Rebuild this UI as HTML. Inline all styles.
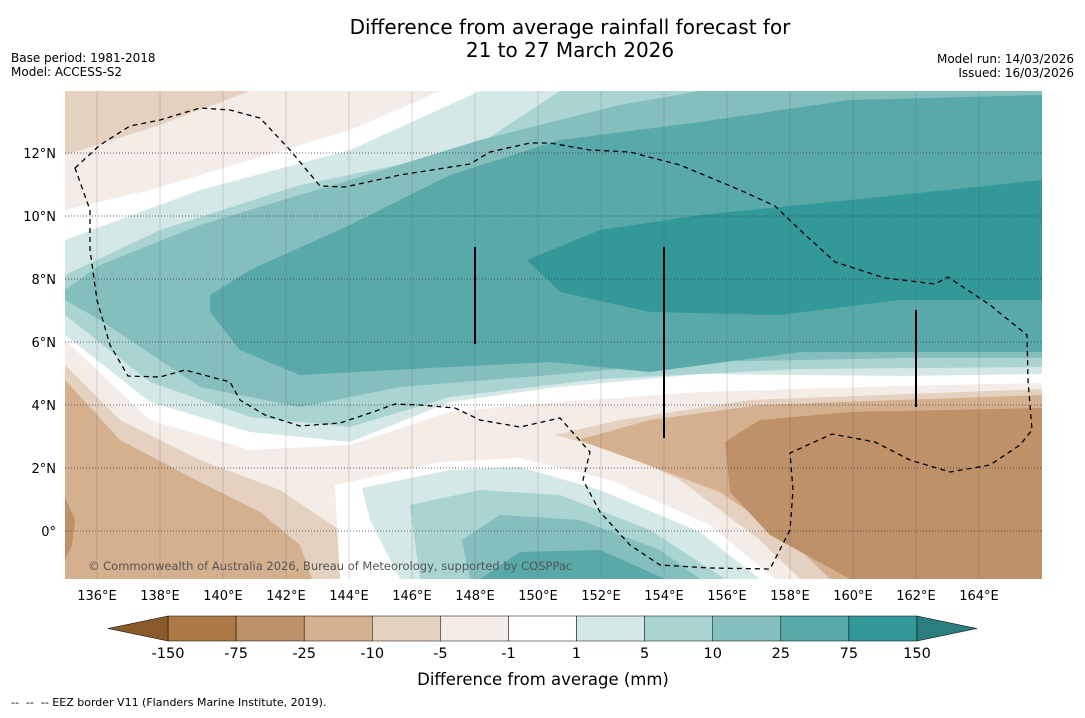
<!DOCTYPE html>
<html><head><meta charset="utf-8">
<style>
body{margin:0;background:#fff;font-family:"Liberation Sans","DejaVu Sans",sans-serif;}
svg text{font-family:"DejaVu Sans","Liberation Sans",sans-serif;}
</style></head>
<body>
<svg width="1085" height="713" viewBox="0 0 1085 713">
<rect width="1085" height="713" fill="#fff"/>
<text x="570" y="34" font-size="20" text-anchor="middle">Difference from average rainfall forecast for</text>
<text x="570" y="57" font-size="20" text-anchor="middle">21 to 27 March 2026</text>
<text x="11" y="62" font-size="12">Base period: 1981-2018</text>
<text x="11" y="76" font-size="12">Model: ACCESS-S2</text>
<text x="1074" y="63" font-size="12" text-anchor="end">Model run: 14/03/2026</text>
<text x="1074" y="77" font-size="12" text-anchor="end">Issued: 16/03/2026</text>
<defs><clipPath id="mc"><rect x="65" y="91" width="977" height="488"/></clipPath></defs>
<g clip-path="url(#mc)">
<rect x="65" y="91" width="977" height="488" fill="#fff"/>
<path d="M65,91 L440,91 L350,130 L250,160 L150,190 L65,210 Z" fill="#f4ece6"/>
<path d="M65,91 L250,91 L160,125 L65,155 Z" fill="#e5d1bf"/>
<path d="M65,340 L150,420 L250,450 L350,445 L450,412 L560,402 L700,392 L900,386 L1042,383 L1042,579 L65,579 Z" fill="#f4ece6"/>
<path d="M65,365 L120,420 L200,460 L280,490 L340,530 L370,579 L65,579 Z" fill="#e5d1bf"/>
<path d="M65,380 L120,440 L200,482 L260,512 L300,545 L312,579 L65,579 Z" fill="#d4b08f"/>
<path d="M65,497 L75,520 L72,545 L65,560 Z" fill="#bf9169"/>
<path d="M555,435 L620,420 L750,400 L1042,389 L1042,579 L800,579 L760,540 L680,480 L620,452 Z" fill="#e5d1bf"/>
<path d="M578,440 L650,420 L760,405 L1042,395 L1042,579 L830,579 L790,540 L720,492 L640,462 Z" fill="#d4b08f"/>
<path d="M725,442 L760,420 L850,412 L1042,408 L1042,579 L850,579 L770,535 L730,492 Z" fill="#bf9169"/>
<path d="M335,485 L440,462 L520,458 L610,480 L710,525 L775,579 L340,579 Z" fill="#fff"/>
<path d="M362,488 L450,470 L520,467 L600,490 L700,532 L760,579 L400,579 L370,520 Z" fill="#d4e9e7"/>
<path d="M410,505 L480,490 L560,495 L650,530 L725,579 L420,579 Z" fill="#a9d4d2"/>
<path d="M462,540 L500,515 L580,520 L660,550 L700,579 L470,579 Z" fill="#84bebd"/>
<path d="M480,579 L520,552 L600,550 L665,579 Z" fill="#59a9a9"/>
<path d="M65,240 L200,190 L350,150 L480,91 L1042,91 L1042,374 L900,376 L700,374 L550,388 L450,402 L350,442 L250,432 L150,402 L65,335 Z" fill="#d4e9e7"/>
<path d="M65,275 L160,230 L300,185 L470,150 L560,91 L1042,91 L1042,367 L800,369 L600,379 L450,397 L350,427 L250,417 L150,382 L65,315 Z" fill="#a9d4d2"/>
<path d="M65,290 L100,265 L200,225 L350,180 L480,140 L620,105 L700,91 L1042,91 L1042,358 L900,358 L700,362 L550,375 L400,387 L300,407 L200,387 L100,320 L65,300 Z" fill="#84bebd"/>
<path d="M210,295 L250,270 L350,225 L450,175 L560,140 L700,122 L850,100 L1042,95 L1042,352 L800,352 L650,372 L550,362 L450,367 L300,375 L240,350 L210,312 Z" fill="#59a9a9"/>
<path d="M527,260 L600,230 L700,215 L850,200 L1042,180 L1042,300 L900,300 L780,315 L650,312 L560,292 Z" fill="#329898"/>
<g id="grid"></g>
<path d="M75,168 L100,145 L130,126 L160,120 L200,108 L230,110 L260,118 L290,150 L320,186 L345,187 L400,175 L470,164 L490,152 L530,143 L550,143 L590,150 L630,152 L680,165 L740,190 L775,206 L800,230 L835,262 L885,278 L935,284 L948,277 L990,305 L1027,335 L1028,380 L1032,430 L1020,445 L990,465 L950,472 L910,460 L875,442 L832,434 L790,453 L793,490 L790,530 L770,569 L710,568 L660,565 L630,545 L600,512 L583,480 L590,452 L560,418 L520,427 L480,420 L455,408 L420,405 L395,404 L370,413 L340,423 L300,426 L265,415 L240,400 L230,382 L185,370 L160,377 L128,376 L110,345 L97,300 L90,250 L90,210 Z" fill="none" stroke="#000" stroke-width="1.3" stroke-dasharray="5,4"/>
<line x1="475" y1="247" x2="475" y2="344" stroke="#000" stroke-width="2"/>
<line x1="664" y1="247" x2="664" y2="438" stroke="#000" stroke-width="2"/>
<line x1="916" y1="310" x2="916" y2="407" stroke="#000" stroke-width="2"/>
<text x="88" y="570" font-size="11.5" fill="#555">© Commonwealth of Australia 2026, Bureau of Meteorology, supported by COSPPac</text>
</g>
<g id="axes"></g>
<g id="cbar"></g>
<text x="543" y="685" font-size="16.5" text-anchor="middle">Difference from average (mm)</text>
<text x="11" y="706" font-size="11" xml:space="preserve">--  --  -- EEZ border V11 (Flanders Marine Institute, 2019).</text>
<script>
const lonTicks=[136,138,140,142,144,146,148,150,152,154,156,158,160,162,164];
const latTicks=[0,2,4,6,8,10,12];
const levelLabels=["-150","-75","-25","-10","-5","-1","1","5","10","25","75","150"];
const levelColors=["#ad7a47","#bf9169","#d4b08f","#e5d1bf","#f4ece6","#ffffff","#d4e9e7","#a9d4d2","#84bebd","#59a9a9","#329898"];
const NS="http://www.w3.org/2000/svg";
const xOf=lon=>65.5+(lon-135)*31.5;
const yOf=lat=>531-lat*31.5;
function mk(t,a,p){const e=document.createElementNS(NS,t);for(const k in a)e.setAttribute(k,a[k]);p.appendChild(e);return e;}
const grid=document.getElementById('grid'),axes=document.getElementById('axes'),cb=document.getElementById('cbar');
lonTicks.forEach(l=>{const x=xOf(l);
const g=mk('line',{x1:x,y1:91,x2:x,y2:579,stroke:'#556',"stroke-width":0.5,opacity:0.45},grid);


const t=mk('text',{x:x,y:600,"font-size":13,"text-anchor":"middle"},axes);t.textContent=l+"°E";

});
latTicks.forEach(l=>{const y=yOf(l);
const g=mk('line',{x1:65,y1:y,x2:1042,y2:y,stroke:'#334',"stroke-width":0.7,"stroke-dasharray":"1,2"},grid);


const t=mk('text',{x:56,y:y+5,"font-size":13,"text-anchor":"end"},axes);t.textContent=l===0?"0°":l+"°N";

});
const x0=168,x1=917,w=(x1-x0)/levelColors.length,cy=616,ch=25;
levelColors.forEach((c,i)=>{const r=mk('rect',{x:x0+i*w,y:cy,width:w,height:ch,fill:c,stroke:'#000',"stroke-width":0.5},cb);

});
const lt=mk('polygon',{points:`${x0},${cy} ${x0},${cy+ch} 108,${cy+ch/2}`,fill:'#8b5a2b',stroke:'#000',"stroke-width":0.5},cb);


const rt=mk('polygon',{points:`${x1},${cy} ${x1},${cy+ch} 977,${cy+ch/2}`,fill:'#2a7e7e',stroke:'#000',"stroke-width":0.5},cb);


levelLabels.forEach((s,i)=>{const t=mk('text',{x:x0+i*w,y:658,"font-size":14.5,"text-anchor":"middle"},cb);t.textContent=s;

});
</script>
</svg>
</body></html>
